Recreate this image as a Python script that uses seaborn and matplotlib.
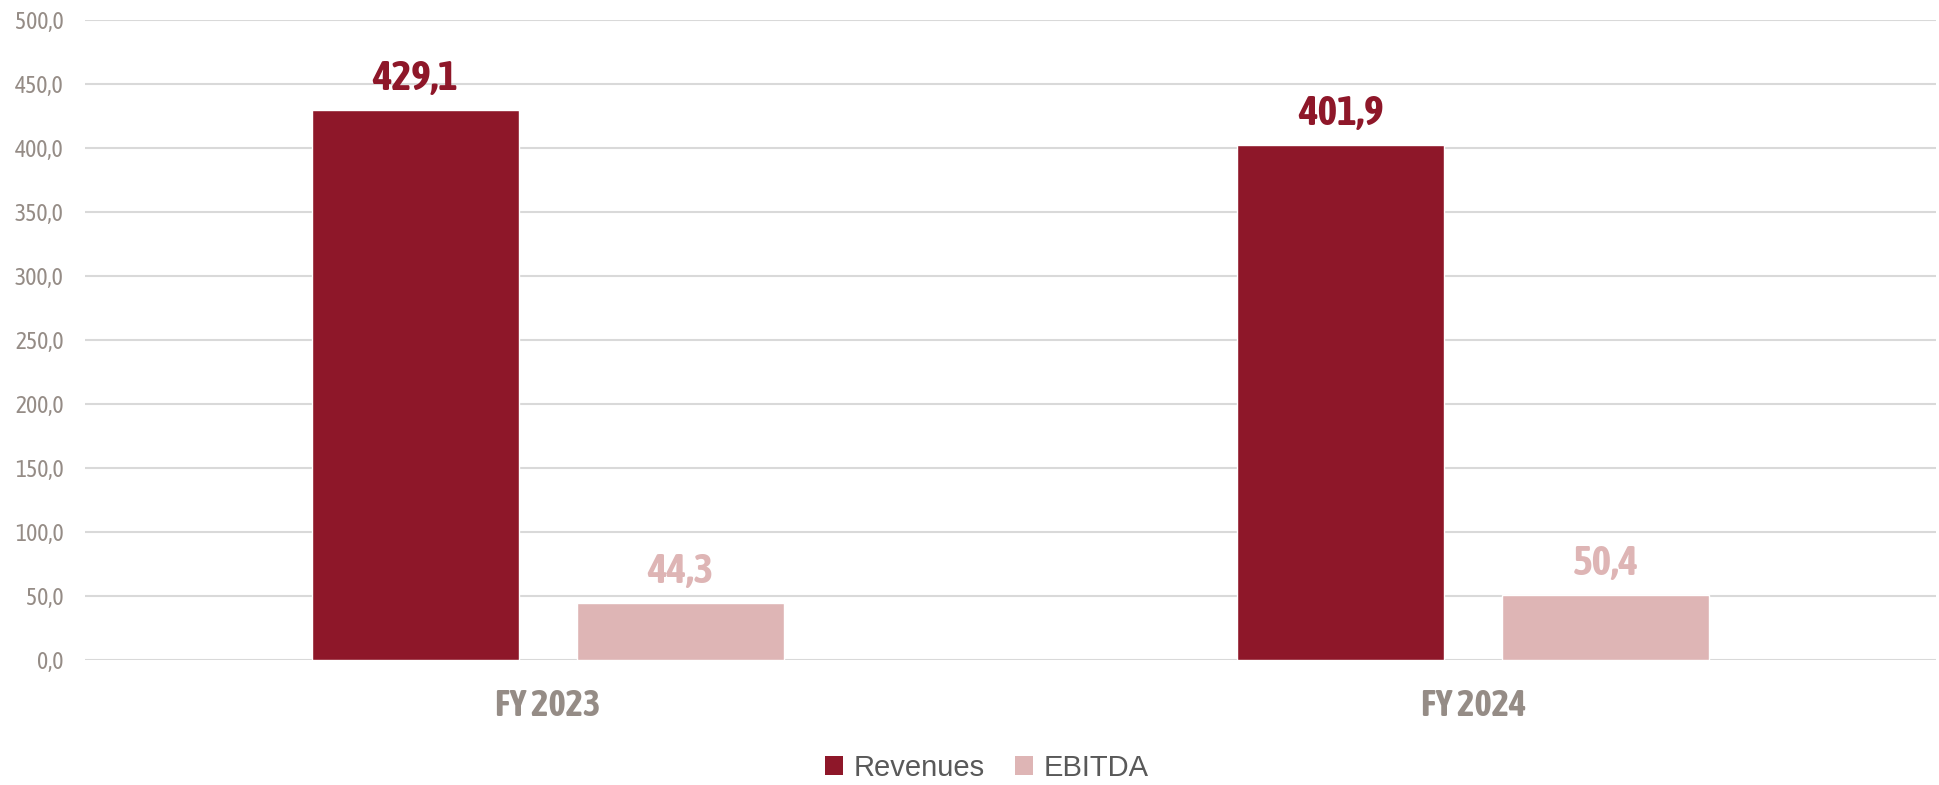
import matplotlib
matplotlib.use("Agg")
import matplotlib.pyplot as plt
from matplotlib import font_manager as fm
from matplotlib.patches import Patch
from matplotlib.ticker import FuncFormatter, MultipleLocator
import seaborn as sns
import pandas as pd

# ---- data ----
categories = ["FY 2023", "FY 2024"]
series = ["Revenues", "EBITDA"]
revenues = [429.1, 401.9]
ebitda = [44.3, 50.4]

colors = {"Revenues": "#8E1729", "EBITDA": "#DEB5B5"}

df = pd.DataFrame({
    "year": categories * 2,
    "series": [series[0]] * len(categories) + [series[1]] * len(categories),
    "value": revenues + ebitda,
})

sns.set_theme(style="white")
plt.rcParams["font.family"] = ["Liberation Sans", "DejaVu Sans"]


def wnum(w):
    if isinstance(w, str):
        return {"light": 300, "normal": 400, "regular": 400, "medium": 500,
                "semibold": 600, "bold": 700, "heavy": 800, "black": 900}.get(w, 400)
    return int(w)


# find a condensed family (reference uses Arial Narrow) with regular + bold faces
cands = {}
for f in fm.fontManager.ttflist:
    if ("Narrow" in f.name or "Condensed" in f.name) and f.style == "normal":
        cands.setdefault(f.name, {})[wnum(f.weight)] = f.fname
reg_path = bold_path = None
pref = sorted(cands, key=lambda n: (0 if "Liberation" in n else 1 if "Arial" in n else 2, n))
for n in pref:
    faces = cands[n]
    if 400 in faces and 700 in faces:
        reg_path, bold_path = faces[400], faces[700]
        break


def fp(bold, size):
    path = bold_path if bold else reg_path
    if path:
        return fm.FontProperties(fname=path, size=size)
    return fm.FontProperties(family=["Liberation Sans", "DejaVu Sans"],
                             weight="bold" if bold else "normal",
                             size=size * 0.9)


fig = plt.figure(figsize=(19.39, 7.85), dpi=100)
ax = fig.add_axes([85 / 1939, 1 - 660 / 785, (1936 - 85) / 1939, (660 - 19.5) / 785])

sns.barplot(data=df, x="year", y="value", hue="series", hue_order=series,
            order=categories, palette=colors, width=0.572, gap=0.218,
            saturation=1, legend=False, ax=ax, zorder=3)

ax.set_ylim(0, 500)
ax.set_xlim(-0.5, 1.5)
ax.yaxis.set_major_locator(MultipleLocator(50))
ax.yaxis.set_major_formatter(FuncFormatter(lambda v, p: f"{v:.1f}".replace(".", ",")))
ax.grid(axis="y", color="#D9D9D9", linewidth=1.5, zorder=0)
ax.grid(axis="x", visible=False)
ax.set_axisbelow(True)
for s in ax.spines.values():
    s.set_visible(False)
ax.set_xlabel("")
ax.set_ylabel("")
ax.tick_params(axis="y", length=0, pad=15.5, labelcolor="#958C86")
ax.tick_params(axis="x", length=0, pad=20.5, labelcolor="#958C86")
fig.canvas.draw()
for lbl in ax.get_yticklabels():
    lbl.set_fontproperties(fp(False, 17))
for lbl in ax.get_xticklabels():
    lbl.set_fontproperties(fp(True, 26.5))

# value labels
for cont, name in zip(ax.containers, series):
    vals = revenues if name == "Revenues" else ebitda
    texts = ax.bar_label(cont, labels=[f"{v:.1f}".replace(".", ",") for v in vals],
                         padding=8, color=colors[name])
    for t in texts:
        t.set_fontproperties(fp(True, 30))

handles = [Patch(facecolor=colors[s], edgecolor="none") for s in series]
fig.legend(handles, series, loc="center", bbox_to_anchor=(987 / 1939, 1 - 768 / 785),
           ncol=2, frameon=False, handlelength=0.62, handleheight=0.62,
           handletextpad=0.35, columnspacing=1.05, borderpad=0,
           prop={"family": ["Liberation Sans", "DejaVu Sans"], "size": 21},
           labelcolor="#595959")

fig.savefig("out.png", dpi=100, facecolor="white")
